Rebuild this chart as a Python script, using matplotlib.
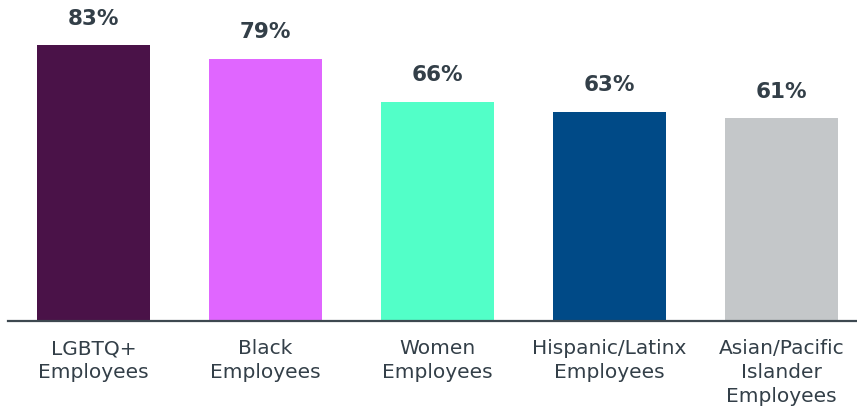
import matplotlib
matplotlib.use("Agg")
import matplotlib.pyplot as plt

categories = ["LGBTQ+\nEmployees", "Black\nEmployees", "Women\nEmployees",
              "Hispanic/Latinx\nEmployees", "Asian/Pacific\nIslander\nEmployees"]
values = [83, 79, 66, 63, 61]
colors = ["#4a1248", "#e066ff", "#52ffc8", "#004a87", "#c4c7c9"]
text_color = "#333f48"

fig = plt.figure(figsize=(8.57, 4.15), dpi=100)
ax = fig.add_axes([8 / 857, 94 / 415, 849 / 857, 299 / 415])

x = list(range(len(categories)))
bars = ax.bar(x, values, width=113 / 172, color=colors)
for xi, v in zip(x, values):
    ax.annotate(f"{v}%", (xi, v), xytext=(0, 12), textcoords="offset points",
                ha="center", va="bottom", fontsize=15.5, fontweight="bold",
                color=text_color, family="DejaVu Sans")

ax.set_xlim(-0.497, 4.439)
ax.set_ylim(0, 90)
ax.set_xticks(x)
ax.set_xticklabels(categories, fontsize=14.5, color=text_color, linespacing=1.32)
ax.tick_params(axis="x", length=0, pad=13)
ax.set_yticks([])
for s in ["top", "right", "left"]:
    ax.spines[s].set_visible(False)
ax.spines["bottom"].set_color("#3d4850")
ax.spines["bottom"].set_linewidth(1.6)

fig.savefig("out.png", dpi=100)
